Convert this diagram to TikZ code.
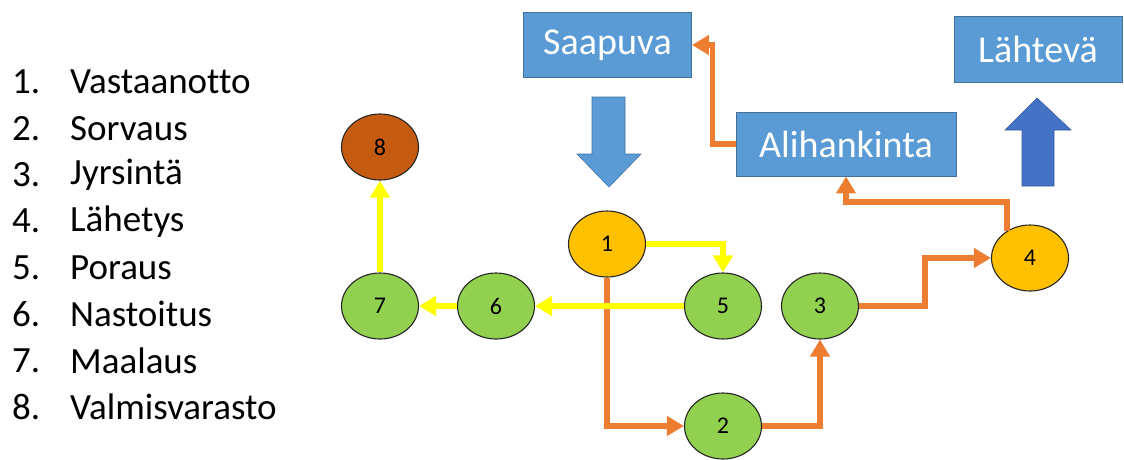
\documentclass[tikz,border=0pt]{standalone}
\usepackage{fontspec}
\setmainfont[RawFeature=-liga]{Carlito}
\usetikzlibrary{arrows.meta,shapes.geometric}
\definecolor{boxblue}{HTML}{5B9BD5}
\definecolor{boxedge}{HTML}{41719C}
\definecolor{upblue}{HTML}{4472C4}
\definecolor{flowor}{HTML}{ED7D31}
\definecolor{flowye}{HTML}{FFFF00}
\definecolor{stgreen}{HTML}{92D050}
\definecolor{stgold}{HTML}{FFC000}
\definecolor{stbrown}{HTML}{C55A11}
\tikzset{
  stage/.style={ellipse, draw=black!85, line width=1.1pt, minimum width=77pt, minimum height=66pt, inner sep=0pt, font=\fontsize{24}{24}\selectfont},
  area/.style={rectangle, draw=boxedge, line width=0.9pt, fill=boxblue, text=white, inner sep=0pt, font=\fontsize{38}{38}\selectfont},
  orflow/.style={draw=flowor, line width=5.5pt, -{Triangle[width=19pt,length=17pt]}},
  yeflow/.style={draw=flowye, line width=5.5pt, -{Triangle[width=19pt,length=17pt]}},
  listtxt/.style={anchor=west, inner sep=0pt, font=\fontsize{37}{37}\selectfont, text=black}
}
\begin{document}
\begin{tikzpicture}[x=1pt,y=-1pt]
\useasboundingbox (0,0) rectangle (1124,459);

% legend of stage numbers
\foreach \i/\name [evaluate=\i as \yy using 82+46.4*(\i-1)] in
  {1/Vastaanotto,2/Sorvaus,3/Jyrsintä,4/Lähetys,5/Poraus,6/Nastoitus,7/Maalaus,8/Valmisvarasto}{
  \node[listtxt] (num\i) at (12,\yy) {\i.};
  \node[listtxt] (lbl\i) at (70,\yy) {\name};
}

% storage areas
\node[area, minimum width=168pt, minimum height=65pt] (saap) at (607.5,45) {Saapuva};
\node[area, minimum width=220pt, minimum height=64pt] (ali) at (846,144) {Alihankinta};
\node[area, minimum width=168pt, minimum height=66pt] (laht) at (1038,49) {Lähtevä};

% inbound and outbound block arrows
\fill[boxblue, draw=boxedge, line width=0.6pt]
  (592,97) -- (625,97) -- (625,154) -- (641,154) -- (609,187) -- (577,154) -- (592,154) -- cycle;
\fill[upblue, draw=upblue!80!black, line width=0.6pt]
  (1022,186) -- (1054,186) -- (1054,130) -- (1071,130) -- (1037,98) -- (1005,130) -- (1022,130) -- cycle;

% work stages
\node[stage, fill=stbrown] (n8) at (380,147) {8};
\node[stage, fill=stgreen] (n7) at (380,306) {7};
\node[stage, fill=stgreen] (n6) at (496,306) {6};
\node[stage, fill=stgold]  (n1) at (607,244) {1};
\node[stage, fill=stgreen] (n5) at (723,306) {5};
\node[stage, fill=stgreen] (n3) at (820,306) {3};
\node[stage, fill=stgreen] (n2) at (723,426) {2};
\node[stage, fill=stgold]  (n4) at (1030,258) {4};

% main route (orange)
\draw[orflow] (n1.south) |- (n2.west);
\draw[orflow] (n2.east) -| (n3.south);
\draw[orflow] (n3.east) -- ++(66,0) |- (n4.west);
\draw[orflow] (n4.130) -- ++(0,-29) -| (ali.south);
\draw[orflow] (ali.west) -- ++(-23,0) |- (saap.east);

% drilling route (yellow)
\draw[yeflow] (n1.east) -| (n5.north);
\draw[yeflow] (n5.west) -- (n6.east);
\draw[yeflow] (n6.west) -- (n7.east);
\draw[yeflow] (n7.north) -- (n8.south);
\end{tikzpicture}
\end{document}
